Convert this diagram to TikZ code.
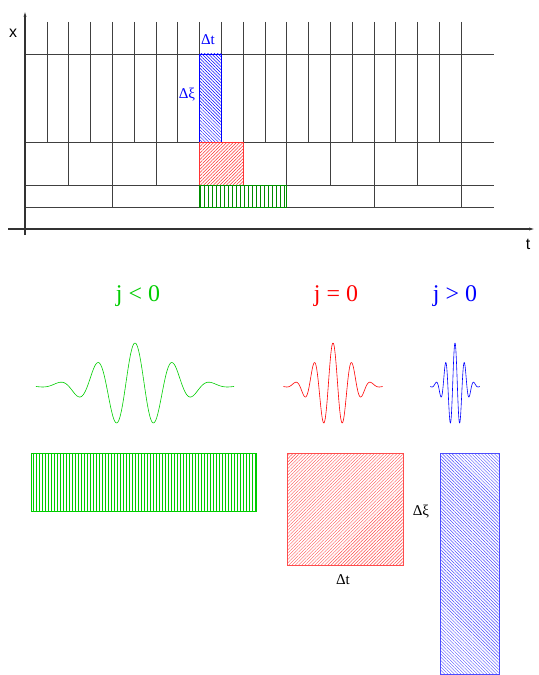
\documentclass[tikz,border=0pt]{standalone}
\usepackage{fontspec}
\setmainfont{Liberation Serif}
\setsansfont{Liberation Sans}
\usetikzlibrary{arrows.meta,patterns.meta}
\definecolor{wgreen}{RGB}{0,205,0}
\definecolor{dgreen}{RGB}{0,140,0}

\begin{document}
\begin{tikzpicture}[x=1bp, y=-1bp, >={Latex[length=7bp,width=3bp]},
  grid/.style={black!75, line width=0.6bp},
  axis/.style={black!80, line width=1.2bp, ->},
  hatch/.style={line width=0.7bp},
  lbl/.style={inner sep=0pt, font=\fontsize{15}{18}\selectfont},
  jlbl/.style={inner sep=0pt, anchor=base, font=\fontsize{24}{28}\selectfont},
  ax/.style={inner sep=0pt, font=\sffamily\fontsize{16}{19}\selectfont}]
  \useasboundingbox (0,0) rectangle (539,675);
  % tiling of the time-frequency plane
  \foreach \k in {1,...,20} \draw[grid] ({25+21.8*\k},22) -- ({25+21.8*\k},142);
  \foreach \k in {1,...,10} \draw[grid] ({25+43.6*\k},142) -- ({25+43.6*\k},185);
  \foreach \k in {1,...,5} \draw[grid] ({25+87.2*\k},185) -- ({25+87.2*\k},207);
  \foreach \y in {54,142,185,207} \draw[grid] (25,\y) -- (494,\y);
  \draw[hatch, blue, pattern={Lines[angle=-45,distance=2.3bp,line width=0.5bp]}, pattern color=blue]
    (199.4,54) rectangle (221.2,142);
  \draw[hatch, red!80, pattern={Lines[angle=45,distance=2.3bp,line width=0.5bp]}, pattern color=red!80]
    (199.4,142) rectangle (243,185);
  \draw[hatch, dgreen, pattern={Lines[angle=90,distance=4bp,line width=0.6bp]}, pattern color=dgreen]
    (199.4,185) rectangle (286.6,207);
  % axes
  \coordinate (xfoot) at (25,235);
  \coordinate (xtip) at (25,10);
  \coordinate (tfoot) at (8,229);
  \coordinate (ttip) at (536,229);
  \draw[axis] (xfoot) -- (xtip);
  \draw[axis] (tfoot) -- (ttip);
  \node[ax] (xlab) at (13,33) {x};
  \node[ax] (tlab) at (528,244) {t};
  \node[lbl, blue] (dttop) at (208,40) {Δt};
  \node[lbl, blue] (dxitop) at (187,95) {Δξ};
  % scales
  \node[jlbl, wgreen] (jneg) at (138,301) {j < 0};
  \node[jlbl, red] (jzero) at (336,301) {j = 0};
  \node[jlbl, blue] (jpos) at (455,301) {j > 0};
  % wavelets
  \foreach \c/\s/\col in {135/1/wgreen, 333/0.5/red, 455/0.25/blue}
    \draw[\col, line width=0.6bp, domain=-99*\s:99*\s, samples=300, smooth]
      plot ({\c+\x}, {386-43*cos(9.4737/\s*\x)*exp(-(\x/\s)*(\x/\s)/2312)});
  % Heisenberg boxes
  \draw[hatch, wgreen, pattern={Lines[angle=90,distance=3bp,line width=0.5bp]}, pattern color=wgreen]
    (31,453) rectangle (256,511);
  \draw[hatch, red!70, pattern={Lines[angle=45,distance=2.3bp,line width=0.45bp]}, pattern color=red!70]
    (287,453) rectangle (403,565);
  \draw[hatch, blue!70, pattern={Lines[angle=-45,distance=2.3bp,line width=0.45bp]}, pattern color=blue!70]
    (440,453) rectangle (499,674);
  \node[lbl] (dxibot) at (421,512) {Δξ};
  \node[lbl] (dtbot) at (343,580) {Δt};
\end{tikzpicture}
\end{document}
